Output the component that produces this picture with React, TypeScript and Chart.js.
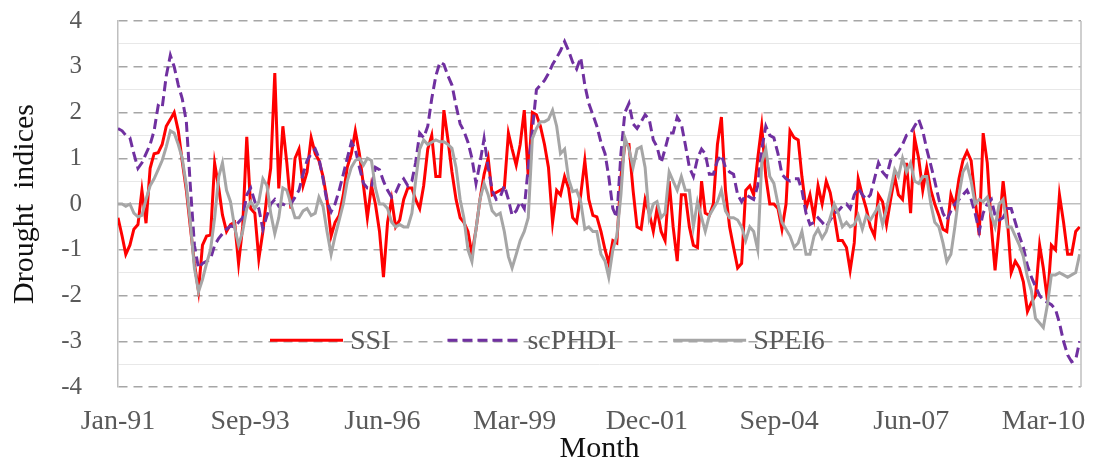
import React, { useEffect, useRef } from 'react';
import { Chart, registerables } from 'chart.js';

Chart.register(...registerables);

// Monthly series, Jan-1991 .. Dec-2010 (240 months)
const seriesNames = ['SSI', 'scPHDI', 'SPEI6'];

const ssi = [
  -0.3, -0.7, -1.1, -0.9, -0.55, -0.45, 0.3, -0.42, 0.78, 1.1,
  1.12, 1.3, 1.7, 1.85, 2.0, 1.6, 0.93, 0.3, -0.5, -1.3,
  -1.9, -0.9, -0.7, -0.68, 0.89, 0.35, -0.24, -0.6, -0.45, -0.4,
  -1.3, -0.5, 1.47, -0.1, -0.2, -1.2, -0.6, 0.2, 0.78, 2.86,
  0.34, 1.7, 0.9, -0.1, 1.0, 1.2, 0.4, 0.7, 1.45, 1.1,
  0.95, 0.6, 0.1, -0.7, -0.4, -0.25, 0.2, 0.8, 1.1, 1.6,
  1.1, 0.4, -0.3, 0.4, 0.0, -0.6, -1.6, -0.4, 0.1, -0.5,
  -0.35, 0.1, 0.35, 0.35, 0.1, -0.1, 0.4, 1.2, 1.5, 0.6,
  0.6, 2.05, 1.4, 0.7, 0.1, -0.3, -0.4, -0.6, -1.1, -0.55,
  0.1, 0.65, 1.0, 0.2, 0.25, 0.3, 0.35, 1.55, 1.2, 0.85,
  1.3, 2.05, 0.6, 2.0, 1.95, 1.7, 1.3, 0.8, -0.4, 0.3,
  0.2, 0.6, 0.35, -0.3, -0.4, 0.2, 0.95, 0.1, -0.25, -0.28,
  -0.6, -1.0, -1.3, -0.8, -0.85, 0.6, 1.3, 1.3, 0.3, -0.5,
  -0.55, 0.1, -0.2, -0.6, -0.1, -0.6, -0.8, 0.5, -0.5, -1.25,
  0.2, 0.2, -0.5, -0.9, -0.95, 0.5, -0.2, -0.25, 0.0, 1.3,
  1.9, 0.3, -0.5, -0.95, -1.4, -1.3, 0.3, 0.4, 0.2, 1.0,
  1.7, 0.6, 0.0, 0.0, -0.1, -0.55, 0.0, 1.6, 1.45, 1.4,
  0.6, -0.1, 0.2, -0.3, 0.4, 0.0, 0.5, 0.25, -0.25, -0.8,
  -0.8, -0.95, -1.45, -0.85, 0.55, 0.2, -0.1, -0.5, -0.7, 0.2,
  0.05, -0.45, 0.1, 0.6, 0.2, 0.1, 0.9, -0.2, 1.45, 1.0,
  0.3, 0.8, 0.3, 0.0, -0.25, -0.55, -0.6, 0.2, -0.05, 0.55,
  0.95, 1.15, 0.95, 0.1, -0.68, 1.55, 0.9, -0.5, -1.45, -0.5,
  0.5, -0.3, -1.5, -1.25, -1.4, -1.7, -2.35, -2.15, -2.0, -0.9,
  -1.4, -2.1, -0.9, -1.0, 0.2, -0.4, -1.1, -1.1, -0.6, -0.5,
];

const scphdi = [
  1.65, 1.6, 1.5, 1.45, 1.1, 0.78, 0.9, 1.1, 1.3, 1.6,
  2.15, 2.1, 2.8, 3.25, 3.0, 2.6, 2.3, 1.8, 0.4, -0.9,
  -1.4, -1.3, -1.25, -1.2, -0.9, -0.75, -0.65, -0.55, -0.48, -0.5,
  -0.4, -0.3, 0.2, 0.35, 0.05, -0.1, -0.55, -0.25, 0.0, 0.1,
  -0.05, 0.0, -0.05, 0.0, 0.15, 0.3, 0.65, 0.95, 1.1, 1.2,
  1.0, 0.55, 0.05, -0.17, 0.0, 0.3, 0.65, 1.0, 1.35, 1.2,
  0.8, 0.45, 0.35, 0.35, 0.8, 0.75, 0.5, 0.3, 0.15, 0.25,
  0.45, 0.55, 0.4, 0.5, 0.9, 1.55, 1.45, 1.7, 2.3, 2.8,
  3.1, 3.05, 2.8, 2.6, 2.15, 1.75, 1.6, 1.35, 1.0, 0.45,
  0.9, 1.43, 0.8, 0.3, 0.1, 0.15, 0.4, 0.1, -0.25, -0.15,
  0.05, -0.1, 0.8, 1.6, 2.5, 2.6, 2.7, 2.85, 3.05, 3.2,
  3.35, 3.55, 3.35, 3.1, 2.95, 3.2, 2.6, 2.2, 1.95, 1.7,
  1.35, 1.1, 0.6, -0.1, -0.3, 1.1, 2.0, 2.2, 1.75, 1.65,
  1.8, 1.95, 1.85, 1.4, 1.25, 0.9, 1.2, 1.55, 1.55, 1.9,
  1.75, 1.3, 0.8, 0.6, 1.0, 1.2, 1.1, 0.65, 0.65, 0.95,
  1.07, 0.8, 0.7, 0.65, 0.2, 0.05, 0.2, 0.15, 0.1, 0.4,
  1.2, 1.7, 1.5, 1.45, 1.1, 0.65, 0.55, 0.5, 0.55, 0.55,
  0.3, -0.2, -0.45, -0.4, -0.3, -0.4, -0.5, -0.35, -0.2, -0.15,
  -0.05, 0.0, -0.1, 0.2, 0.35, 0.2, 0.1, 0.2, 0.55, 0.9,
  0.7, 0.6, 0.95, 1.05, 1.15, 1.3, 1.5, 1.55, 1.7, 1.85,
  1.6, 1.2, 0.85, 0.5, 0.1, -0.2, -0.35, -0.15, 0.0, 0.1,
  0.2, 0.3, 0.1, -0.2, -0.6, -0.2, 0.0, 0.1, -0.25, -0.35,
  -0.3, -0.1, -0.1, -0.4, -0.7, -0.95, -1.35, -1.6, -1.8, -2.0,
  -2.1, -2.15, -2.2, -2.3, -2.6, -3.0, -3.3, -3.45, -3.4, -3.0,
];

const spei6 = [
  0.0, 0.0, -0.05, 0.0, -0.2, -0.28, -0.25, 0.1, 0.4, 0.55,
  0.75, 0.95, 1.25, 1.6, 1.55, 1.3, 1.0, 0.4, -0.4, -1.4,
  -1.92, -1.65, -1.3, -1.0, -0.3, 0.6, 0.9, 0.3, 0.05, -0.5,
  -0.9, -0.6, -0.1, 0.05, -0.1, 0.05, 0.55, 0.4, -0.2, -0.65,
  -0.3, 0.35, 0.3, 0.0, -0.3, -0.3, -0.15, -0.1, -0.25, -0.2,
  0.15, -0.05, -0.6, -1.1, -0.7, -0.35, 0.0, 0.5, 0.8, 0.95,
  1.0, 0.85, 1.0, 0.95, 0.35, 0.0, 0.0, -0.1, -0.4, -0.5,
  -0.45, -0.5, -0.5, -0.2, 0.5, 1.2, 1.4, 1.3, 1.35, 1.4,
  1.36, 1.36, 1.3, 1.22, 0.8, 0.1, -0.3, -1.0, -1.26, -0.55,
  0.1, 0.45, 0.2, -0.15, -0.25, -0.2, -0.6, -1.15, -1.4, -1.1,
  -0.8, -0.6, -0.3, 1.43, 1.65, 1.8, 1.8, 1.85, 2.05, 1.7,
  1.1, 1.2, 0.55, 0.27, 0.3, 0.05, -0.55, -0.5, -0.6, -0.6,
  -1.1, -1.25, -1.6, -1.0, -0.7, 0.2, 1.45, 1.2, 0.8, 1.2,
  1.25, 0.8, -0.3, 0.0, 0.05, -0.3, -0.2, 0.7, 0.5, 0.3,
  0.6, 0.3, 0.3, -0.5, 0.05, -0.3, -0.6, -0.25, -0.1, 0.05,
  0.3, -0.15, -0.3, -0.3, -0.35, -0.5, -0.8, -0.5, -0.6, -1.0,
  0.9, 1.2, 0.6, 0.45, 0.0, -0.4, -0.55, -0.7, -0.95, -0.85,
  -0.6, -1.1, -1.1, -0.7, -0.55, -0.75, -0.6, -0.3, 0.0, -0.2,
  -0.5, -0.4, -0.5, -0.45, -0.25, -0.55, -0.25, -0.35, -0.2, -0.05,
  -0.45, -0.1, 0.3, 0.75, 0.6, 1.0, 0.7, 0.9, 0.5, 0.45,
  0.6, 0.6, 0.0, -0.4, -0.5, -0.85, -1.26, -1.1, -0.5, 0.2,
  0.7, 0.85, 0.5, 0.0, 0.1, 0.05, 0.15, -0.25, -0.5, 0.0,
  0.1, -0.5, -0.5, -0.7, -0.9, -1.15, -1.6, -1.9, -2.5, -2.6,
  -2.7, -2.2, -1.55, -1.55, -1.5, -1.55, -1.6, -1.55, -1.5, -1.1,
];

const xTickLabels = ['Jan-91', 'Sep-93', 'Jun-96', 'Mar-99', 'Dec-01', 'Sep-04', 'Jun-07', 'Mar-10'];
const xTickStepDays = 1000;
const xAxisEndDays = 7284;
const yMin = -4;
const yMax = 4;
const yMinorStep = 0.5;

const seriesColors = ['#FF0000', '#7030A0', '#A6A6A6'];
const seriesDashes = [[], [10, 5], []];

const DAY_MS = 86400000;
const ORIGIN = Date.UTC(1991, 0, 1);
const monthToDays = (i: number) => (Date.UTC(1991, i, 1) - ORIGIN) / DAY_MS;

const SERIF = '"Liberation Serif", "Times New Roman", serif';

const legendPlugin = {
  id: 'insideLegend',
  afterDatasetsDraw(chart: any) {
    const { ctx, chartArea, scales } = chart;
    const y = scales.y.getPixelForValue(-3) - 1;
    let x = chartArea.left + 152;
    ctx.save();
    ctx.font = `28px ${SERIF}`;
    ctx.textBaseline = 'middle';
    ctx.textAlign = 'left';
    chart.data.datasets.forEach((ds: any) => {
      ctx.strokeStyle = ds.borderColor;
      ctx.lineWidth = 3;
      ctx.setLineDash(ds.borderDash || []);
      ctx.beginPath();
      ctx.moveTo(x, y);
      ctx.lineTo(x + 73, y);
      ctx.stroke();
      ctx.setLineDash([]);
      x += 80;
      ctx.fillStyle = '#595959';
      ctx.fillText(ds.label, x, y + 1);
      x += ctx.measureText(ds.label).width + 57;
    });
    ctx.restore();
  },
};

const framePlugin = {
  id: 'rightFrame',
  afterDatasetsDraw(chart: any) {
    const { ctx, chartArea } = chart;
    ctx.save();
    ctx.strokeStyle = '#BFBFBF';
    ctx.lineWidth = 1.5;
    ctx.beginPath();
    ctx.moveTo(chartArea.right, chartArea.top);
    ctx.lineTo(chartArea.right, chartArea.bottom);
    ctx.stroke();
    ctx.restore();
  },
};

export default function App() {
  const canvasRef = useRef<HTMLCanvasElement | null>(null);

  useEffect(() => {
    document.body.style.margin = '0';
    const canvas = canvasRef.current;
    if (!canvas) return;
    const values = [ssi, scphdi, spei6];
    const chart = new Chart(canvas, {
      type: 'line',
      data: {
        datasets: seriesNames.map((name, k) => ({
          label: name,
          data: values[k].map((v, i) => ({ x: monthToDays(i), y: v })),
          borderColor: seriesColors[k],
          backgroundColor: seriesColors[k],
          borderWidth: 3,
          borderDash: seriesDashes[k],
          pointRadius: 0,
          tension: 0,
          fill: false,
          order: 3 - k,
        })),
      },
      options: {
        animation: false,
        responsive: false,
        layout: { padding: { left: 0, right: 13, top: 21, bottom: 0 } },
        plugins: {
          legend: { display: false },
          tooltip: { enabled: false },
        },
        scales: {
          x: {
            type: 'linear',
            bounds: 'data',
            min: 0,
            max: xAxisEndDays,
            afterBuildTicks: (s: any) => {
              s.ticks = xTickLabels.map((_, i) => ({ value: i * xTickStepDays }));
            },
            afterFit: (s: any) => {
              s.height = 73;
              s.paddingLeft = 0;
              s.paddingRight = 0;
            },
            grid: { display: false, drawTicks: false },
            border: { display: false },
            ticks: {
              autoSkip: false,
              maxRotation: 0,
              minRotation: 0,
              padding: 18,
              color: '#595959',
              font: { family: SERIF, size: 28 },
              callback: (_v: any, i: number) => xTickLabels[i] ?? '',
            },
            title: {
              display: true,
              text: 'Month',
              color: '#111111',
              font: { family: SERIF, size: 30, lineHeight: 1 },
              padding: { top: 0, bottom: -4 },
            },
          },
          y: {
            bounds: 'data',
            min: yMin,
            max: yMax,
            afterBuildTicks: (s: any) => {
              const t = [];
              const n = Math.round((yMax - yMin) / yMinorStep);
              for (let k = 0; k <= n; k++) t.push({ value: yMin + k * yMinorStep });
              s.ticks = t;
            },
            afterFit: (s: any) => {
              s.width = 118;
              s.paddingTop = 0;
              s.paddingBottom = 0;
            },
            grid: {
              drawTicks: false,
              color: (c: any) => {
                const v = c.tick ? c.tick.value : 0;
                if (Number.isInteger(v)) return v === 0 ? '#BFBFBF' : '#A6A6A6';
                return '#E8E8E8';
              },
              lineWidth: (c: any) => {
                const v = c.tick ? c.tick.value : 0;
                return Number.isInteger(v) ? 1.5 : 1;
              },
            },
            border: {
              display: true,
              color: '#BFBFBF',
              width: 1.5,
              dash: (c: any) => {
                const v = c.tick ? c.tick.value : 0;
                return c.tick && Number.isInteger(v) && v !== 0 ? [9, 6] : [];
              },
            },
            ticks: {
              autoSkip: false,
              padding: 36,
              color: '#595959',
              font: { family: SERIF, size: 25 },
              callback: (v: any) => (Number.isInteger(Number(v)) ? String(v) : ''),
            },
            title: {
              display: true,
              text: 'Drought  indices',
              color: '#111111',
              font: { family: SERIF, size: 30 },
              padding: { top: 7, bottom: 0 },
            },
          },
        },
      },
      plugins: [legendPlugin, framePlugin],
    } as any);
    return () => chart.destroy();
  }, []);

  return (
    <div style={{ width: 1094, height: 460 }}>
      <canvas ref={canvasRef} width={1094} height={460} style={{ display: 'block' }} />
    </div>
  );
}
